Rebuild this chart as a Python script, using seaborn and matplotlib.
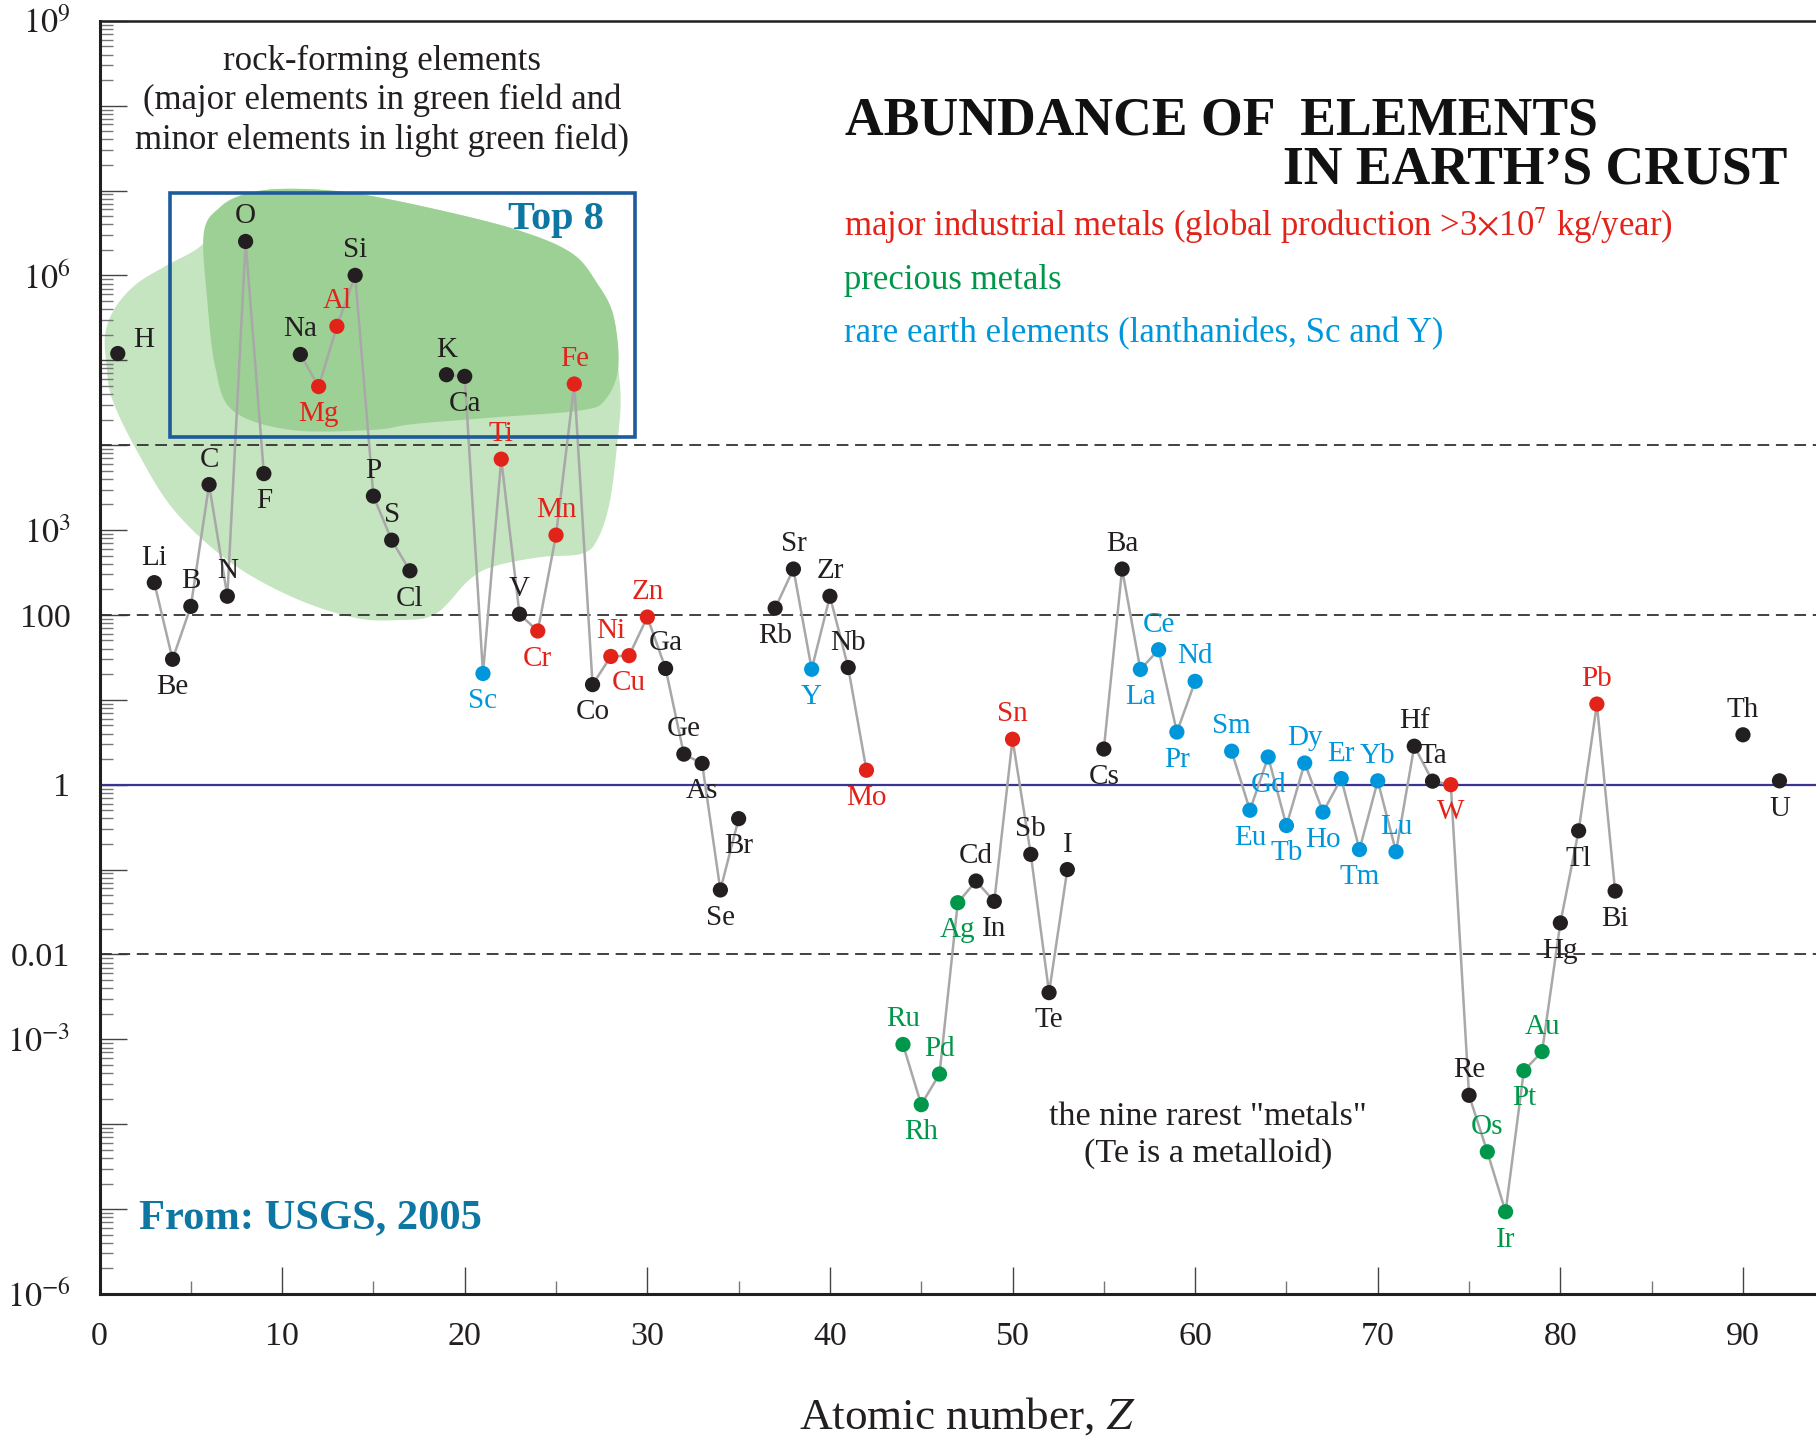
import numpy as np
import pandas as pd
import matplotlib
matplotlib.use("Agg")
import matplotlib.pyplot as plt
import matplotlib.patches as mpatches
from matplotlib.ticker import FixedLocator, FuncFormatter
import seaborn as sns

# ---------------- data ----------------
symbols = ["H", "Li", "Be", "B", "C", "N", "O", "F", "Na", "Mg", "Al", "Si", "P", "S", "Cl",
           "K", "Ca", "Sc", "Ti", "V", "Cr", "Mn", "Fe", "Co", "Ni", "Cu", "Zn", "Ga", "Ge",
           "As", "Se", "Br", "Rb", "Sr", "Y", "Zr", "Nb", "Mo", "Ru", "Rh", "Pd", "Ag", "Cd",
           "In", "Sn", "Sb", "Te", "I", "Cs", "Ba", "La", "Ce", "Pr", "Nd", "Sm", "Eu", "Gd",
           "Tb", "Dy", "Ho", "Er", "Tm", "Yb", "Lu", "Hf", "Ta", "W", "Re", "Os", "Ir", "Pt",
           "Au", "Hg", "Tl", "Pb", "Bi", "Th", "U"]
atomic_number = [1, 3, 4, 5, 6, 7, 8, 9, 11, 12, 13, 14, 15, 16, 17,
                 19, 20, 21, 22, 23, 24, 25, 26, 27, 28, 29, 30, 31, 32,
                 33, 34, 35, 37, 38, 39, 40, 41, 42, 44, 45, 46, 47, 48,
                 49, 50, 51, 52, 53, 55, 56, 57, 58, 59, 60, 62, 63, 64,
                 65, 66, 67, 68, 69, 70, 71, 72, 73, 74, 75, 76, 77, 78,
                 79, 80, 81, 82, 83, 90, 92]
abundance = [1.20e5, 240, 30, 126, 3430, 166, 2.51e6, 4620, 1.17e5, 4.90e4, 2.51e5, 1.0e6, 2510, 759, 331,
             6.76e4, 6.46e4, 20.4, 6840, 102, 64.6, 871, 5.25e4, 15.1, 32.4, 33.1, 94.4, 23.4, 2.29,
             1.78, 0.0575, 0.398, 120, 347, 22.9, 166, 24.0, 1.48, 8.7e-4, 1.7e-4, 3.9e-4, 0.0407, 0.0733,
             0.0422, 3.43, 0.151, 3.55e-3, 0.100, 2.63, 347, 22.8, 38.9, 4.17, 16.5, 2.48, 0.50, 2.12,
             0.33, 1.80, 0.475, 1.18, 0.172, 1.11, 0.162, 2.84, 1.10, 1.00, 2.19e-4, 4.73e-5, 9.3e-6, 4.27e-4,
             7.16e-4, 0.0235, 0.286, 8.91, 0.0558, 3.87, 1.11]

industrial_metals = ["Mg", "Al", "Ti", "Cr", "Mn", "Fe", "Ni", "Cu", "Zn", "Mo", "Sn", "W", "Pb"]
precious_metals = ["Ru", "Rh", "Pd", "Ag", "Os", "Ir", "Pt", "Au"]
rare_earths = ["Sc", "Y", "La", "Ce", "Pr", "Nd", "Sm", "Eu", "Gd", "Tb", "Dy", "Ho", "Er",
               "Tm", "Yb", "Lu"]

labels_below = ["Be", "F", "Mg", "Cl", "Ca", "Sc", "Cr", "Co", "Cu", "As", "Se", "Br", "Rb",
                "Y", "Mo", "Rh", "Ag", "In", "Te", "Cs", "La", "Pr", "Eu", "Gd", "Tb", "Ho",
                "Tm", "W", "Ir", "Pt", "Hg", "Tl", "Bi", "U"]

ytick_values = [1e9, 1e6, 1e3, 1e2, 1, 1e-2, 1e-3, 1e-6]
ytick_texts = [r"$10^{9}$", r"$10^{6}$", r"$10^{3}$", "100", "1", "0.01", r"$10^{-3}$", r"$10^{-6}$"]

# outlines of the shaded "rock-forming" fields: (Z, log10 abundance)
light_field = [(10.46, 7.02), (13.89, 6.97), (18.39, 6.78), (22.95, 6.53), (25.87, 6.26),
               (27.27, 5.90), (28.15, 5.52), (28.41, 4.92), (28.54, 4.54), (28.41, 4.14),
               (27.96, 3.35), (27.27, 2.89), (26.38, 2.72), (24.10, 2.68), (21.56, 2.57),
               (20.23, 2.41), (18.39, 2.01), (16.36, 1.94), (13.89, 1.97), (10.46, 2.22),
               (7.04, 2.64), (4.06, 3.24), (2.03, 3.94), (0.70, 4.54), (0.38, 4.95),
               (0.32, 5.32), (0.89, 5.63), (2.03, 5.90), (3.61, 6.11), (5.71, 6.38),
               (6.59, 6.80), (8.18, 6.97)]
dark_field = [(10.46, 7.02), (13.89, 6.97), (18.39, 6.78), (22.95, 6.53), (25.87, 6.26),
              (27.27, 5.90), (28.15, 5.52), (28.41, 4.92), (27.71, 4.54), (26.38, 4.41),
              (21.81, 4.33), (17.25, 4.25), (14.97, 4.18), (10.46, 4.18), (7.29, 4.41),
              (6.34, 4.92), (5.90, 5.71), (5.71, 6.50), (6.59, 6.80), (8.18, 6.97)]

# ---------------- styling ----------------
sns.set_style("ticks")
plt.rcParams["font.family"] = ["Liberation Serif", "DejaVu Serif"]
plt.rcParams["mathtext.fontset"] = "stix"

INK = "#231f20"
RED = "#e2231a"
GREEN = "#00974a"
BLUE = "#0096db"
TEAL = "#0d76a3"

df = pd.DataFrame({"symbol": symbols, "Z": atomic_number, "abundance": abundance})
df["group"] = "other"
df.loc[df.symbol.isin(industrial_metals), "group"] = "industrial"
df.loc[df.symbol.isin(precious_metals), "group"] = "precious"
df.loc[df.symbol.isin(rare_earths), "group"] = "rare earth"
df["segment"] = (df["Z"].diff().fillna(1) != 1).cumsum()
palette = {"other": INK, "industrial": RED, "precious": GREEN, "rare earth": BLUE}

fig = plt.figure(figsize=(18.16, 14.4), dpi=100)
ax = fig.add_axes([0.0548, 0.1014, 1 - 0.0548, 0.9856 - 0.1014])
ax.set_yscale("log")
ax.set_xlim(0, 94)
ax.set_ylim(1e-6, 1e9)


def smooth_closed(pts, n=24):
    P = np.asarray(pts, dtype=float)
    m = len(P)
    t = np.linspace(0, 1, n, endpoint=False)[:, None]
    out = []
    for i in range(m):
        p0, p1, p2, p3 = P[(i - 1) % m], P[i], P[(i + 1) % m], P[(i + 2) % m]
        out.append(0.5 * (2 * p1 + (-p0 + p2) * t + (2 * p0 - 5 * p1 + 4 * p2 - p3) * t ** 2
                          + (-p0 + 3 * p1 - 3 * p2 + p3) * t ** 3))
    return np.vstack(out)


for outline, col in [(light_field, "#c5e4c0"), (dark_field, "#9dd094")]:
    c = smooth_closed(outline)
    ax.fill(c[:, 0], 10 ** c[:, 1], color=col, lw=0, zorder=0.5)

# reference lines
for yv in [1e4, 1e2, 1e-2]:
    ax.axhline(yv, color="#333333", lw=1.3, dashes=(6.5, 3.7), zorder=1)
ax.axhline(1, color="#3b3592", lw=1.6, zorder=1)

# connecting lines (separate runs of consecutive Z) and points
sns.lineplot(data=df, x="Z", y="abundance", units="segment", estimator=None,
             color="#a8a8a8", lw=1.8, ax=ax, zorder=2, legend=False)
sns.scatterplot(data=df, x="Z", y="abundance", hue="group", palette=palette,
                s=120, linewidth=0, ax=ax, zorder=3, legend=False)

# element labels
for sym, z, v, g in zip(df.symbol, df.Z, df.abundance, df.group):
    if sym == "H":
        off = (19, 10)
    elif sym in labels_below:
        off = (0, -20)
    else:
        off = (0, 18)
    ax.annotate(sym, (z, v), xytext=off, textcoords="offset points", ha="center",
                va="center", fontsize=21, color=palette[g], zorder=4)

# "Top 8" box
ax.add_patch(mpatches.Rectangle((3.87, 10 ** 4.10), 29.3 - 3.87, 10 ** 6.97 - 10 ** 4.10,
                                fill=False, ec="#1d5b9b", lw=2.6, zorder=2.5))
ax.text(0.2658, 0.8435, "Top 8", transform=ax.transAxes, ha="center", va="center",
        fontsize=29, fontweight="bold", color=TEAL)

# texts
ax.text(0.1646, 0.9372, "rock-forming elements\n(major elements in green field and\nminor elements in light green field)",
        transform=ax.transAxes, ha="center", va="center", fontsize=25, color=INK, linespacing=1.24)
ax.text(0.4343, 0.9208, "ABUNDANCE OF  ELEMENTS", transform=ax.transAxes, ha="left", va="center",
        fontsize=38.6, fontweight="bold", color="#111111")
ax.text(0.6895, 0.8827, "IN EARTH\u2019S CRUST", transform=ax.transAxes, ha="left", va="center",
        fontsize=38.6, fontweight="bold", color="#111111")
ax.text(0.4337, 0.839, r"major industrial metals (global production >3$\times$10$^{7}$ kg/year)",
        transform=ax.transAxes, ha="left", va="center", fontsize=25, color=RED)
ax.text(0.4337, 0.7963, "precious metals", transform=ax.transAxes, ha="left", va="center",
        fontsize=25, color=GREEN)
ax.text(0.4337, 0.7544, "rare earth elements (lanthanides, Sc and Y)", transform=ax.transAxes,
        ha="left", va="center", fontsize=25, color=BLUE)
ax.text(0.6458, 0.1249, "the nine rarest \"metals\"\n(Te is a metalloid)", transform=ax.transAxes,
        ha="center", va="center", fontsize=24.5, color=INK, linespacing=1.25)
ax.text(0.023, 0.0594, "From: USGS, 2005", transform=ax.transAxes, ha="left", va="center",
        fontsize=30.6, fontweight="bold", color=TEAL)

# axes, ticks
ax.set_xlabel(r"Atomic number, $Z$", fontsize=32.5, color=INK, va="center")
ax.xaxis.set_label_coords(0.5054, -0.096)
ax.set_ylabel("")
ax.set_xticks(np.arange(0, 91, 10))
ax.set_xticks(np.arange(5, 91, 10), minor=True)
ax.yaxis.set_major_locator(FixedLocator([10.0 ** k for k in range(-6, 10)]))
ax.yaxis.set_minor_locator(FixedLocator([m * 10.0 ** k for k in range(-6, 9) for m in range(2, 10)]))
lookup = {round(np.log10(v)): t for v, t in zip(ytick_values, ytick_texts)}
ax.yaxis.set_major_formatter(FuncFormatter(lambda v, p: lookup.get(round(np.log10(v)), "")))
ax.tick_params(axis="both", which="major", direction="in", length=19.5, width=1.0,
               color="#444444", labelsize=24.5, labelcolor=INK)
ax.tick_params(axis="both", which="minor", direction="in", length=9.5, width=1.0, color="#777777")
ax.tick_params(axis="x", which="major", pad=20)
ax.tick_params(axis="y", which="major", pad=21)
ax.tick_params(axis="both", which="both", top=False, right=False)

for side in ["left", "bottom", "top"]:
    ax.spines[side].set_color(INK)
    ax.spines[side].set_linewidth(2.2)
ax.spines["top"].set_linewidth(1.8)
ax.spines["right"].set_visible(False)

fig.savefig("out.png", dpi=100, facecolor="white")
